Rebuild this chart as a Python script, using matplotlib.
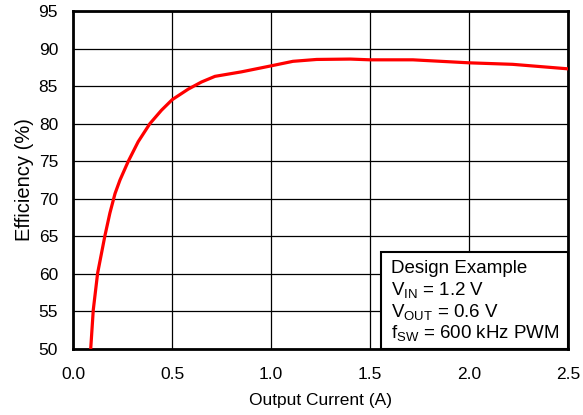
import matplotlib
matplotlib.use("Agg")
import matplotlib.pyplot as plt
from matplotlib.patches import Rectangle

plt.rcParams['font.family'] = ['Liberation Sans', 'DejaVu Sans']
plt.rcParams['mathtext.fontset'] = 'custom'
plt.rcParams['mathtext.rm'] = 'Liberation Sans'
plt.rcParams['mathtext.it'] = 'Liberation Sans'

current = [0.088, 0.101, 0.123, 0.160, 0.185, 0.211, 0.236, 0.278, 0.328, 0.387,
           0.446, 0.5, 0.581, 0.648, 0.716, 0.850, 1.0, 1.11, 1.23, 1.40, 1.5,
           1.716, 2.0, 2.22, 2.5]
efficiency = [50.0, 55.2, 60.1, 65.1, 68.1, 70.7, 72.5, 75.0, 77.6, 80.0,
              81.8, 83.2, 84.6, 85.55, 86.3, 86.9, 87.7, 88.3, 88.55, 88.6, 88.5,
              88.5, 88.1, 87.9, 87.3]
xticks = [0.0, 0.5, 1.0, 1.5, 2.0, 2.5]
yticks = [50, 55, 60, 65, 70, 75, 80, 85, 90, 95]
legend_lines = ["Design Example",
                r"V$_{\mathrm{IN}}$ = 1.2 V",
                r"V$_{\mathrm{OUT}}$ = 0.6 V",
                r"f$_{\mathrm{SW}}$ = 600 kHz PWM"]

fig = plt.figure(figsize=(5.83, 4.15), dpi=100)
ax = fig.add_axes([0.1257, 0.159, 0.8486, 0.8145])
ax.plot(current, efficiency, color='#ff0000', lw=2.3, zorder=3,
        solid_joinstyle='round')
ax.set_xlim(0, 2.5)
ax.set_ylim(50, 95)
ax.set_xticks(xticks)
ax.set_xticklabels([f"{v:.1f}" for v in xticks])
ax.set_yticks(yticks)
ax.grid(True, color='black', lw=0.9)
for s in ax.spines.values():
    s.set_linewidth(2)
ax.tick_params(axis='x', length=0, labelsize=12.5, pad=13)
ax.tick_params(axis='y', length=0, labelsize=12.5, pad=11)
ax.set_xlabel("Output Current (A)", fontsize=12.5, labelpad=8)
ax.set_ylabel("Efficiency (%)", fontsize=14.5, labelpad=3)

bx0 = 0.622
by1 = 0.287
ax.add_patch(Rectangle((bx0, 0), 1 - bx0, by1, transform=ax.transAxes,
                       facecolor='white', edgecolor='black', lw=1.5, zorder=4))
ys = [0.237, 0.176, 0.110, 0.047]
for t, y in zip(legend_lines, ys):
    ax.text(bx0 + 0.02, y, t, transform=ax.transAxes, fontsize=13.5,
            va='center', ha='left', zorder=5)

fig.savefig("out.png", dpi=100)
